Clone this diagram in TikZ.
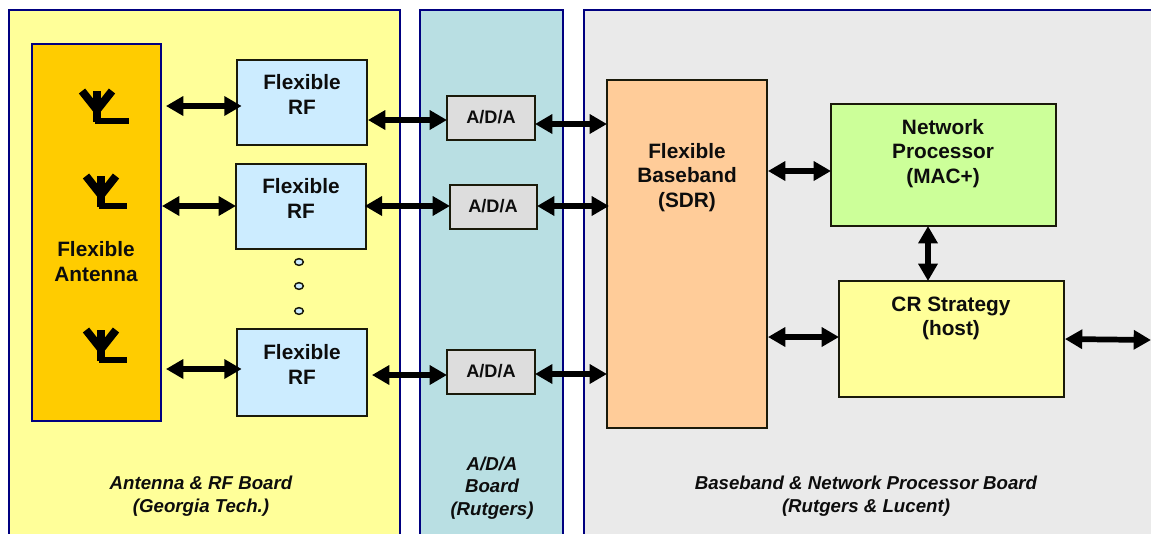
\documentclass[tikz,border=0pt]{standalone}
\usepackage{fontspec}
\setmainfont{Liberation Sans}
\usetikzlibrary{arrows.meta,shapes.geometric}
\definecolor{boardyellow}{HTML}{FFFF99}
\definecolor{antennaorange}{HTML}{FFCC00}
\definecolor{rfblue}{HTML}{CCECFF}
\definecolor{adaboard}{HTML}{B9DFE3}
\definecolor{adagray}{HTML}{DDDDDD}
\definecolor{netboard}{HTML}{EAEAEA}
\definecolor{bbpeach}{HTML}{FFCC99}
\definecolor{netgreen}{HTML}{CCFF99}
\definecolor{boardnavy}{HTML}{000080}
\definecolor{boxedge}{HTML}{1A1A0A}
\newcommand{\rbox}[6]{%
  \pgfmathsetmacro{\bcx}{(#2+#4)/2}\pgfmathsetmacro{\bcy}{(#3+#5)/2}%
  \pgfmathsetmacro{\bw}{(#4-#2)*0.75}\pgfmathsetmacro{\bh}{(#5-#3)*0.75}%
  \node[rect,#6,minimum width=\bw pt,minimum height=\bh pt] (#1) at (\bcx,\bcy) {};}
\tikzset{
  x=0.75pt,y=-0.75pt,
  rect/.style={rectangle,inner sep=0pt,outer sep=0pt},
  board/.style={draw=boardnavy,line width=1.4pt},
  blockbox/.style={draw=boxedge,line width=1.5pt},
  headline/.style={font=\fontsize{15.6}{18.5}\selectfont\bfseries,align=center,inner sep=0pt,text=black!95},
  adatext/.style={font=\fontsize{13.6}{16}\selectfont\bfseries,inner sep=0pt,text=black!95},
  boardtext/.style={font=\fontsize{14}{16.8}\selectfont\bfseries\itshape,align=center,inner sep=0pt,text=black!95},
  dbl/.style={line width=4.3pt,{Triangle[length=13pt,width=14pt]}-{Triangle[length=13pt,width=14pt]}},
  dotmark/.style={draw=boxedge,fill=rfblue,line width=1.1pt,ellipse,minimum width=6.5pt,minimum height=5pt,inner sep=0pt},
  antline/.style={line width=6pt,black,line cap=butt},
  antfoot/.style={line width=4.6pt,black,line cap=butt},
}
\begin{document}
\begin{tikzpicture}
\useasboundingbox (0,0) rectangle (1151,533);
\clip (0,0) rectangle (1151,533);
\fill[white] (0,0) rectangle (1151,533);
% boards
\rbox{boardA}{9}{10}{400}{560}{board,fill=boardyellow}
\rbox{boardB}{420}{10}{563}{560}{board,fill=adaboard}
\rbox{boardC}{584}{10}{1180}{560}{board,fill=netboard}
% blocks
\rbox{ant}{32}{44}{161}{421}{draw=boardnavy,line width=1.8pt,fill=antennaorange}
\rbox{rfa}{237}{60}{367}{145}{blockbox,fill=rfblue}
\rbox{rfb}{236}{164}{366}{249}{blockbox,fill=rfblue}
\rbox{rfc}{237}{329}{367}{416}{blockbox,fill=rfblue}
\rbox{adaa}{447}{96}{535}{140}{blockbox,fill=adagray}
\rbox{adab}{450}{185}{537}{229}{blockbox,fill=adagray}
\rbox{adac}{447}{350}{535}{394}{blockbox,fill=adagray}
\rbox{bb}{607}{80}{767}{428}{blockbox,fill=bbpeach}
\rbox{net}{831}{104}{1056}{226}{blockbox,fill=netgreen}
\rbox{cr}{839}{281}{1064}{397}{blockbox,fill=boardyellow}
% antenna symbols
\foreach \sx/\sy/\fl in {97/91/32, 101/176/26, 101/330/26}{
  \begin{scope}[shift={(\sx,\sy)}]
    \draw[antline] (-15,0) -- (0,19);
    \draw[antline] (15,0) -- (0,19);
    \draw[antline] (0,0) -- (0,31);
    \draw[antfoot] (-2,30) -- (\fl,30);
  \end{scope}
}
% dots
\node[dotmark] (dota) at (299,262) {};
\node[dotmark] (dotb) at (299,286) {};
\node[dotmark] (dotc) at (299,311) {};
% connectors
\coordinate (ext) at (1151,340);
\draw[dbl] ([xshift=3.7pt]ant.east |- 0,106) -- ([xshift=3.5pt]rfa.west |- 0,106);
\draw[dbl] ([xshift=0.7pt]ant.east |- 0,206) -- (rfb.west |- 0,206);
\draw[dbl] ([xshift=3.7pt]ant.east |- 0,369) -- ([xshift=3.5pt]rfc.west |- 0,369);
\draw[dbl] ([xshift=0.7pt]rfa.east |- 0,120) -- (adaa.west |- 0,120);
\draw[dbl] ([xshift=-1pt]rfb.east |- 0,206) -- (adab.west |- 0,206);
\draw[dbl] ([xshift=3.7pt]rfc.east |- 0,375) -- (adac.west |- 0,375);
\draw[dbl] (adaa.east |- 0,124) -- (bb.west |- 0,124);
\draw[dbl] (adab.east |- 0,206) -- ([xshift=1.5pt]bb.west |- 0,206);
\draw[dbl] (adac.east |- 0,374) -- (bb.west |- 0,374);
\draw[dbl] ([xshift=0.7pt]bb.east |- 0,171) -- (net.west |- 0,171);
\draw[dbl] ([xshift=0.7pt]bb.east |- 0,337) -- (cr.west |- 0,337);
\draw[dbl] (net.south -| 928,0) -- (cr.north -| 928,0);
\draw[dbl] ([xshift=0.7pt]cr.east |- 0,339) -- (ext);
% labels
\node[headline] (ta) at (96,261.5) {Flexible\\Antenna};
\node[headline] (tb) at (302,94.5) {Flexible\\RF};
\node[headline] (tc) at (301,198.5) {Flexible\\RF};
\node[headline] (td) at (302,364.5) {Flexible\\RF};
\node[adatext] (te) at (491,117) {A/D/A};
\node[adatext] (tf) at (493,206) {A/D/A};
\node[adatext] (tg) at (491,371) {A/D/A};
\node[headline] (th) at (687,177.5) {Flexible\\Baseband\\(SDR)};
\node[headline] (ti) at (943,153.5) {Network\\Processor\\(MAC+)};
\node[headline] (tj) at (951,318.5) {CR Strategy\\(host)};
\node[boardtext] (tk) at (201,496) {Antenna \& RF Board\\(Georgia Tech.)};
\node[boardtext] (tl) at (492,488) {A/D/A\\Board\\(Rutgers)};
\node[boardtext] (tm) at (866,496) {Baseband \& Network Processor Board\\(Rutgers \& Lucent)};
\end{tikzpicture}
\end{document}
